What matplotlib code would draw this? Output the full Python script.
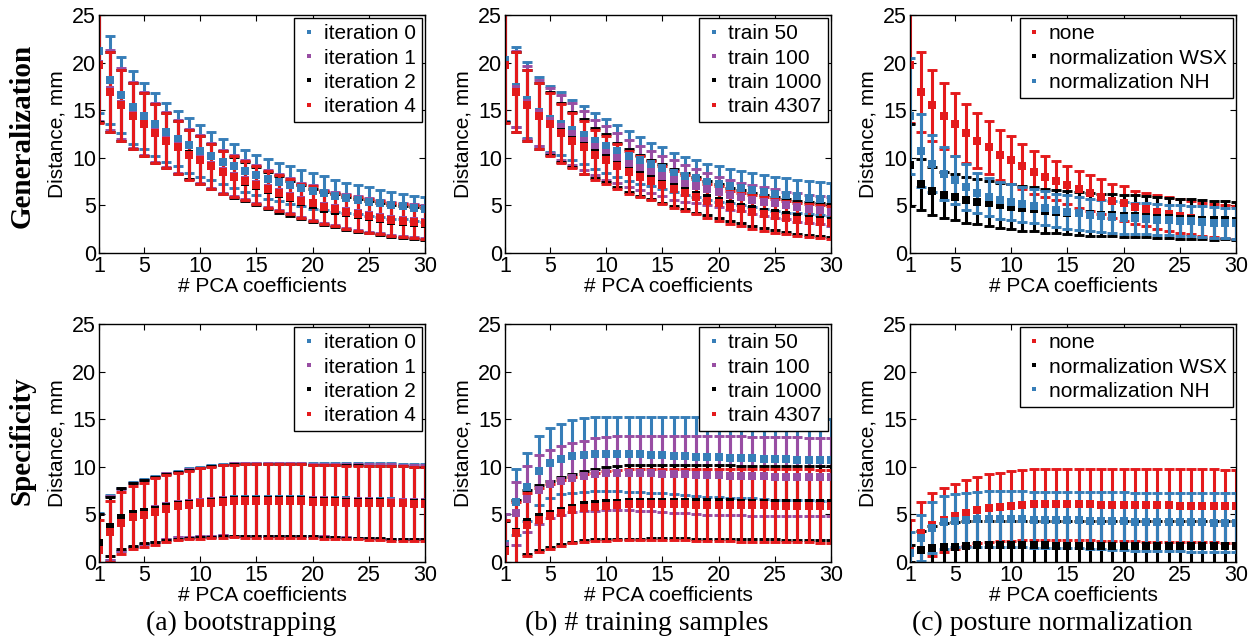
import matplotlib
matplotlib.use("Agg")
import matplotlib.pyplot as plt
from matplotlib.lines import Line2D

plt.rcParams['font.family'] = ['Liberation Sans', 'DejaVu Sans']

x = list(range(1, 31))
xticks = [1, 5, 10, 15, 20, 25, 30]
yticks = [0, 5, 10, 15, 20, 25]

# ---------------- Generalization (top row) ----------------
gen_red_mean = [19.8, 16.9, 15.5, 14.4, 13.5, 12.6, 11.8, 11.1, 10.3, 9.8,
                9.1, 8.5, 8.0, 7.6, 7.1, 6.7, 6.3, 5.9, 5.5, 5.2,
                4.8, 4.6, 4.3, 4.1, 3.9, 3.7, 3.5, 3.4, 3.3, 3.2]
gen_red_std = [6.1, 4.2, 3.7, 3.5, 3.3, 3.1, 2.9, 2.8, 2.6, 2.5,
               2.35, 2.25, 2.15, 2.05, 2.0, 1.95, 1.9, 1.85, 1.8, 1.8,
               1.75, 1.75, 1.75, 1.75, 1.75, 1.75, 1.75, 1.75, 1.75, 1.75]

gen_a_blue_mean = [21.2, 18.2, 16.6, 15.3, 14.4, 13.5, 12.7, 12.0, 11.3, 10.7,
                   10.2, 9.6, 9.1, 8.6, 8.2, 7.8, 7.5, 7.1, 6.8, 6.5,
                   6.3, 6.0, 5.8, 5.6, 5.4, 5.2, 5.0, 4.9, 4.7, 4.6]
gen_a_blue_std = [6.5, 4.6, 4.0, 3.8, 3.5, 3.3, 3.1, 2.9, 2.9, 2.7,
                  2.5, 2.4, 2.3, 2.2, 2.1, 2.1, 2.0, 2.0, 1.9, 1.9,
                  1.8, 1.7, 1.6, 1.5, 1.5, 1.4, 1.4, 1.3, 1.3, 1.3]
gen_a_purple_mean = [19.9, 17.1, 15.7, 14.5, 13.6, 12.7, 11.9, 11.2, 10.4, 9.9,
                     9.2, 8.6, 8.1, 7.7, 7.2, 6.8, 6.4, 6.0, 5.6, 5.3,
                     4.9, 4.7, 4.4, 4.2, 4.0, 3.8, 3.6, 3.5, 3.4, 3.3]
gen_a_purple_std = [6.0, 4.2, 3.7, 3.5, 3.3, 3.1, 2.9, 2.8, 2.6, 2.5,
                    2.35, 2.25, 2.15, 2.05, 2.0, 1.95, 1.9, 1.85, 1.8, 1.8,
                    1.75, 1.75, 1.75, 1.75, 1.75, 1.75, 1.75, 1.75, 1.75, 1.75]
gen_a_black_mean = [19.8, 16.9, 15.5, 14.4, 13.5, 12.6, 11.8, 11.1, 10.35, 9.8,
                    9.1, 8.5, 7.95, 7.5, 7.0, 6.6, 6.15, 5.75, 5.35, 5.0,
                    4.65, 4.45, 4.15, 3.95, 3.75, 3.55, 3.35, 3.25, 3.15, 3.05]
gen_a_black_std = [6.0, 4.2, 3.7, 3.45, 3.3, 3.1, 2.9, 2.8, 2.6, 2.5,
                   2.35, 2.25, 2.15, 2.05, 2.0, 1.95, 1.9, 1.85, 1.8, 1.75,
                   1.75, 1.7, 1.7, 1.7, 1.7, 1.7, 1.7, 1.7, 1.7, 1.7]

gen_b_blue_mean = [20.3, 17.4, 16.1, 14.85, 14.05, 13.6, 12.95, 12.35, 11.75, 11.25,
                   10.7, 10.2, 9.75, 9.3, 8.9, 8.45, 8.1, 7.85, 7.5, 7.25,
                   7.0, 6.8, 6.6, 6.4, 6.2, 6.05, 5.95, 5.8, 5.7, 5.65]
gen_b_blue_std = [6.4, 4.2, 4.0, 3.65, 3.45, 3.3, 3.15, 3.05, 2.95, 2.85,
                  2.7, 2.6, 2.45, 2.3, 2.2, 2.05, 2.0, 1.95, 1.9, 1.85,
                  1.8, 1.8, 1.8, 1.8, 1.8, 1.8, 1.75, 1.75, 1.75, 1.75]
gen_b_purple_mean = [19.8, 17.2, 15.8, 14.7, 13.9, 13.2, 12.5, 11.8, 11.1, 10.5,
                     10.0, 9.4, 8.9, 8.5, 8.1, 7.7, 7.3, 7.0, 6.7, 6.4,
                     6.1, 5.9, 5.6, 5.4, 5.2, 5.0, 4.8, 4.6, 4.5, 4.35]
gen_b_purple_std = [6.0, 4.0, 3.8, 3.5, 3.4, 3.4, 3.3, 3.1, 2.9, 2.8,
                    2.6, 2.5, 2.3, 2.2, 2.1, 2.1, 1.9, 1.8, 1.7, 1.55,
                    1.6, 1.5, 1.5, 1.5, 1.5, 1.45, 1.5, 1.5, 1.5, 1.55]
gen_b_black_mean = [19.8, 16.9, 15.5, 14.4, 13.6, 12.7, 11.9, 11.2, 10.5, 9.95,
                    9.25, 8.65, 8.15, 7.75, 7.3, 6.9, 6.5, 6.1, 5.75, 5.45,
                    5.1, 4.85, 4.6, 4.35, 4.15, 3.95, 3.75, 3.6, 3.5, 3.4]
gen_b_black_std = [6.0, 4.2, 3.7, 3.5, 3.3, 3.1, 2.9, 2.85, 2.65, 2.5,
                   2.35, 2.25, 2.15, 2.05, 2.0, 1.95, 1.9, 1.85, 1.8, 1.8,
                   1.75, 1.75, 1.75, 1.75, 1.75, 1.75, 1.75, 1.75, 1.75, 1.75]

gen_c_black_mean = [9.2, 7.2, 6.5, 6.1, 5.9, 5.6, 5.4, 5.2, 5.0, 4.85,
                    4.7, 4.6, 4.45, 4.35, 4.25, 4.15, 4.05, 4.0, 3.95, 3.9,
                    3.85, 3.8, 3.7, 3.65, 3.6, 3.55, 3.5, 3.45, 3.42, 3.4]
gen_c_black_std = [4.3, 2.65, 2.5, 2.45, 2.4, 2.4, 2.4, 2.4, 2.4, 2.35,
                   2.35, 2.3, 2.3, 2.3, 2.3, 2.3, 2.25, 2.25, 2.2, 2.2,
                   2.2, 2.15, 2.15, 2.1, 2.1, 2.1, 2.05, 2.05, 2.0, 2.0]
gen_c_blue_mean = [14.4, 10.75, 9.4, 8.35, 7.65, 6.9, 6.3, 5.85, 5.55, 5.35,
                   5.1, 4.9, 4.7, 4.5, 4.3, 4.15, 4.0, 3.9, 3.8, 3.7,
                   3.65, 3.6, 3.5, 3.45, 3.4, 3.35, 3.3, 3.2, 3.15, 3.1]
gen_c_blue_std = [6.1, 3.85, 3.0, 2.8, 2.55, 2.4, 2.15, 2.0, 1.95, 1.9,
                  1.85, 1.8, 1.8, 1.75, 1.75, 1.7, 1.7, 1.7, 1.7, 1.7,
                  1.65, 1.65, 1.65, 1.6, 1.6, 1.6, 1.6, 1.6, 1.6, 1.6]

# ---------------- Specificity (bottom row) ----------------
spec_a_red_mean = [1.3, 3.2, 4.1, 4.7, 4.95, 5.3, 5.6, 5.85, 6.0, 6.15,
                   6.25, 6.35, 6.4, 6.4, 6.4, 6.4, 6.4, 6.4, 6.4, 6.35,
                   6.3, 6.3, 6.25, 6.25, 6.2, 6.2, 6.15, 6.15, 6.1, 6.1]
spec_a_red_std = [3.1, 3.2, 3.3, 3.3, 3.4, 3.5, 3.5, 3.55, 3.6, 3.7,
                  3.75, 3.8, 3.8, 3.85, 3.85, 3.85, 3.85, 3.85, 3.85, 3.85,
                  3.85, 3.85, 3.85, 3.85, 3.85, 3.85, 3.9, 3.9, 3.9, 3.9]
spec_a_blue_mean = [1.9, 3.6, 4.5, 5.0, 5.3, 5.6, 5.9, 6.1, 6.25, 6.35,
                    6.45, 6.55, 6.6, 6.6, 6.6, 6.6, 6.6, 6.6, 6.6, 6.55,
                    6.55, 6.5, 6.5, 6.45, 6.45, 6.4, 6.4, 6.35, 6.35, 6.35]
spec_a_blue_std = [3.2, 3.4, 3.3, 3.4, 3.4, 3.45, 3.5, 3.5, 3.6, 3.65,
                   3.7, 3.75, 3.85, 3.85, 3.85, 3.85, 3.85, 3.85, 3.85, 3.85,
                   3.85, 3.9, 3.9, 3.9, 3.9, 3.95, 3.95, 3.95, 3.95, 3.95]
spec_a_purple_mean = [1.85, 3.55, 4.45, 4.95, 5.25, 5.55, 5.85, 6.05, 6.2, 6.3,
                      6.4, 6.5, 6.55, 6.55, 6.55, 6.55, 6.55, 6.55, 6.55, 6.5,
                      6.5, 6.45, 6.45, 6.4, 6.4, 6.35, 6.35, 6.3, 6.3, 6.3]
spec_a_purple_std = [3.15, 3.35, 3.25, 3.35, 3.35, 3.4, 3.45, 3.45, 3.55, 3.6,
                     3.65, 3.7, 3.8, 3.8, 3.8, 3.8, 3.8, 3.8, 3.8, 3.8,
                     3.8, 3.85, 3.85, 3.85, 3.85, 3.9, 3.9, 3.9, 3.9, 3.9]
spec_a_black_mean = [2.0, 3.7, 4.6, 5.0, 5.3, 5.5, 5.75, 5.95, 6.1, 6.25,
                     6.35, 6.45, 6.5, 6.5, 6.5, 6.5, 6.5, 6.5, 6.5, 6.45,
                     6.4, 6.4, 6.35, 6.35, 6.3, 6.3, 6.25, 6.25, 6.2, 6.2]
spec_a_black_std = [3.0, 3.1, 3.2, 3.3, 3.3, 3.4, 3.45, 3.5, 3.55, 3.65,
                    3.7, 3.75, 3.75, 3.75, 3.75, 3.75, 3.75, 3.75, 3.75, 3.75,
                    3.75, 3.8, 3.8, 3.8, 3.8, 3.8, 3.8, 3.8, 3.8, 3.8]

spec_b_blue_mean = [1.9, 6.3, 7.9, 9.6, 10.4, 10.8, 11.1, 11.25, 11.35, 11.35,
                    11.35, 11.3, 11.3, 11.25, 11.2, 11.15, 11.1, 11.05, 11.0, 11.0,
                    10.95, 10.9, 10.9, 10.85, 10.8, 10.8, 10.75, 10.75, 10.7, 10.7]
spec_b_blue_std = [3.1, 3.5, 3.6, 3.6, 3.65, 3.7, 3.8, 3.85, 3.85, 3.85,
                   3.85, 3.9, 3.9, 3.95, 4.0, 4.05, 4.1, 4.15, 4.15, 4.15,
                   4.2, 4.2, 4.2, 4.2, 4.25, 4.25, 4.25, 4.25, 4.3, 4.3]
spec_b_purple_mean = [1.7, 5.1, 6.6, 7.6, 8.2, 8.55, 8.85, 9.05, 9.2, 9.3,
                      9.35, 9.35, 9.3, 9.3, 9.25, 9.2, 9.2, 9.15, 9.1, 9.1,
                      9.05, 9.05, 9.0, 9.0, 8.95, 8.95, 8.95, 8.9, 8.9, 8.9]
spec_b_purple_std = [3.3, 3.3, 3.45, 3.6, 3.6, 3.6, 3.65, 3.7, 3.8, 3.85,
                     3.9, 3.9, 3.95, 3.95, 4.0, 4.05, 4.05, 4.1, 4.15, 4.15,
                     4.15, 4.15, 4.15, 4.15, 4.15, 4.15, 4.15, 4.1, 4.1, 4.1]
spec_b_black_mean = [1.3, 3.2, 4.2, 4.7, 5.05, 5.4, 5.7, 5.95, 6.1, 6.2,
                     6.25, 6.3, 6.3, 6.35, 6.35, 6.35, 6.35, 6.3, 6.3, 6.3,
                     6.3, 6.25, 6.25, 6.25, 6.25, 6.2, 6.2, 6.2, 6.2, 6.2]
spec_b_black_std = [3.0, 3.3, 3.4, 3.4, 3.45, 3.5, 3.55, 3.6, 3.65, 3.75,
                    3.8, 3.85, 3.85, 3.85, 3.85, 3.85, 3.85, 3.9, 3.9, 3.9,
                    3.85, 3.85, 3.85, 3.85, 3.85, 3.85, 3.85, 3.85, 3.85, 3.85]
spec_red_mean = [1.2, 3.0, 3.9, 4.4, 4.8, 5.15, 5.45, 5.65, 5.8, 5.9,
                 6.0, 6.05, 6.05, 6.05, 6.05, 6.05, 6.05, 6.0, 6.0, 6.0,
                 6.0, 5.95, 5.95, 5.95, 5.9, 5.9, 5.9, 5.9, 5.85, 5.85]
spec_red_std = [3.2, 3.3, 3.3, 3.4, 3.4, 3.45, 3.45, 3.55, 3.6, 3.65,
                3.7, 3.75, 3.75, 3.75, 3.75, 3.75, 3.75, 3.8, 3.8, 3.8,
                3.8, 3.8, 3.8, 3.8, 3.85, 3.85, 3.85, 3.85, 3.85, 3.85]

spec_c_black_mean = [0.9, 1.3, 1.45, 1.55, 1.6, 1.7, 1.75, 1.75, 1.75, 1.75,
                     1.75, 1.75, 1.75, 1.7, 1.7, 1.7, 1.7, 1.7, 1.7, 1.7,
                     1.7, 1.7, 1.7, 1.7, 1.7, 1.7, 1.7, 1.7, 1.7, 1.7]
spec_c_black_std = [0.9, 2.0, 2.3, 2.55, 2.6, 2.6, 2.6, 2.6, 2.6, 2.6,
                    2.6, 2.6, 2.6, 2.6, 2.6, 2.6, 2.6, 2.6, 2.6, 2.6,
                    2.6, 2.6, 2.6, 2.6, 2.6, 2.6, 2.6, 2.6, 2.6, 2.6]
spec_c_blue_mean = [0.9, 2.5, 3.6, 4.15, 4.35, 4.45, 4.5, 4.5, 4.5, 4.5,
                    4.5, 4.45, 4.45, 4.45, 4.4, 4.4, 4.35, 4.35, 4.3, 4.3,
                    4.25, 4.25, 4.2, 4.2, 4.2, 4.15, 4.15, 4.1, 4.1, 4.1]
spec_c_blue_std = [2.2, 2.4, 2.7, 2.75, 2.75, 2.85, 2.9, 2.95, 2.95, 2.95,
                   2.95, 2.95, 2.95, 2.95, 2.95, 2.95, 3.0, 3.0, 3.05, 3.05,
                   3.05, 3.05, 3.05, 3.05, 3.05, 3.05, 3.05, 3.1, 3.1, 3.1]

labels_a = ['iteration 0', 'iteration 1', 'iteration 2', 'iteration 4']
labels_b = ['train 50', 'train 100', 'train 1000', 'train 4307']
labels_c = ['none', 'normalization WSX', 'normalization NH']
row_titles = ['Generalization', 'Specificity']
captions = ['(a) bootstrapping', '(b) # training samples', '(c) posture normalization']

BLUE, PURPLE, BLACK, RED = '#377eb8', '#984ea3', '#000000', '#e41a1c'

panels = [
    [  # top row
        (labels_a, [BLUE, PURPLE, BLACK, RED],
         [(gen_a_blue_mean, gen_a_blue_std), (gen_a_purple_mean, gen_a_purple_std),
          (gen_a_black_mean, gen_a_black_std), (gen_red_mean, gen_red_std)]),
        (labels_b, [BLUE, PURPLE, BLACK, RED],
         [(gen_b_blue_mean, gen_b_blue_std), (gen_b_purple_mean, gen_b_purple_std),
          (gen_b_black_mean, gen_b_black_std), (gen_red_mean, gen_red_std)]),
        (labels_c, [RED, BLACK, BLUE],
         [(gen_red_mean, gen_red_std), (gen_c_black_mean, gen_c_black_std),
          (gen_c_blue_mean, gen_c_blue_std)]),
    ],
    [  # bottom row
        (labels_a, [BLUE, PURPLE, BLACK, RED],
         [(spec_a_blue_mean, spec_a_blue_std), (spec_a_purple_mean, spec_a_purple_std),
          (spec_a_black_mean, spec_a_black_std), (spec_a_red_mean, spec_a_red_std)]),
        (labels_b, [BLUE, PURPLE, BLACK, RED],
         [(spec_b_blue_mean, spec_b_blue_std), (spec_b_purple_mean, spec_b_purple_std),
          (spec_b_black_mean, spec_b_black_std), (spec_red_mean, spec_red_std)]),
        (labels_c, [RED, BLACK, BLUE],
         [(spec_red_mean, spec_red_std), (spec_c_black_mean, spec_c_black_std),
          (spec_c_blue_mean, spec_c_blue_std)]),
    ],
]

W, H = 1260.0, 642.0
fig = plt.figure(figsize=(12.6, 6.42), dpi=100)
lefts = [99, 505, 910]
tops = [15, 324]
aw, ah = 326, 238

for r in range(2):
    for c in range(3):
        ax = fig.add_axes([lefts[c] / W, 1 - (tops[r] + ah) / H, aw / W, ah / H])
        labels, colors, series = panels[r][c]
        for (m, s), col in zip(series, colors):
            line, caps, bars = ax.errorbar(x, m, yerr=s, fmt='s', color=col, ms=5.6,
                                           elinewidth=2.2, capsize=3.5, capthick=2.1)
            line.set_markeredgewidth(0)
        ax.set_xlim(1, 30)
        ax.set_ylim(0, 25)
        ax.set_xticks(xticks)
        ax.set_yticks(yticks)
        ax.tick_params(direction='in', top=True, right=True, length=4,
                       width=0.8, labelsize=15.5)
        ax.tick_params(axis='x', pad=2)
        ax.tick_params(axis='y', pad=2)
        for sp in ax.spines.values():
            sp.set_linewidth(1.0)
        ax.set_xlabel('# PCA coefficients', fontsize=15)
        ax.set_ylabel('Distance, mm', fontsize=15)
        ax.xaxis.set_label_coords(0.5, -0.14)
        ax.xaxis.label.set_va('center')
        ax.yaxis.set_label_coords(-0.129, 0.5)
        ax.yaxis.label.set_va('center')
        handles = [Line2D([], [], ls='none', marker='s', ms=3.2, color=col, mew=0)
                   for col in colors]
        leg = ax.legend(handles, labels, loc='upper right', fontsize=15,
                        borderaxespad=0.15, borderpad=0.3, labelspacing=0.25,
                        handlelength=0.8, handletextpad=0.3, fancybox=False,
                        framealpha=1, edgecolor='black')
        leg.get_frame().set_linewidth(1.0)

for r, (title, yc) in enumerate(zip(row_titles, [136, 441])):
    fig.text(22 / W, 1 - yc / H, title, rotation=90, ha='center', va='center',
             fontsize=21, fontweight='bold', family=['Liberation Serif', 'DejaVu Serif'])

for cap, xc in zip(captions, [241, 647, 1052]):
    fig.text(xc / W, 1 - 623 / H, cap, ha='center', va='center', fontsize=20,
             family=['Liberation Serif', 'DejaVu Serif'])

fig.savefig('out.png', dpi=100)
